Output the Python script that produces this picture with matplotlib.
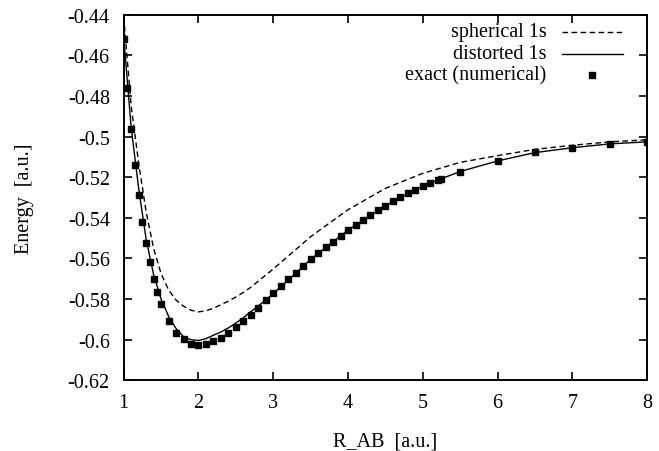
import matplotlib
matplotlib.use("Agg")
import matplotlib.pyplot as plt
from matplotlib.lines import Line2D

plt.rcParams['font.family'] = ['Liberation Serif', 'DejaVu Serif']

# --- exact (numerical) energies ---
r_exact = [1.00, 1.05, 1.10, 1.15, 1.20, 1.25, 1.30, 1.35, 1.40, 1.45, 1.50,
           1.60, 1.70, 1.80, 1.90, 2.00, 2.10, 2.20, 2.30, 2.40, 2.50, 2.60,
           2.70, 2.80, 2.90, 3.00, 3.10, 3.20, 3.30, 3.40, 3.50, 3.60, 3.70,
           3.80, 3.90, 4.00, 4.10, 4.20, 4.30, 4.40, 4.50, 4.60, 4.70, 4.80,
           4.90, 5.00, 5.10, 5.20, 5.25, 5.50, 6.00, 6.50, 7.00, 7.50, 8.00]
e_exact = [-0.4518, -0.4760, -0.4962, -0.5139, -0.5290, -0.5420, -0.5526,
           -0.5620, -0.5702, -0.5765, -0.5824, -0.5908, -0.5967, -0.5999,
           -0.6019, -0.6026, -0.6019, -0.6006, -0.5991, -0.5967, -0.5937,
           -0.5907, -0.5878, -0.5843, -0.5807, -0.5772, -0.5738, -0.5703,
           -0.5674, -0.5639, -0.5605, -0.5575, -0.5546, -0.5517, -0.5488,
           -0.5459, -0.5434, -0.5410, -0.5385, -0.5361, -0.5341, -0.5316,
           -0.5297, -0.5277, -0.5262, -0.5242, -0.5228, -0.5213, -0.5208,
           -0.5173, -0.5119, -0.5078, -0.5055, -0.5035, -0.5026]

# --- spherical 1s ---
r_sph = [1.0, 1.1, 1.2, 1.3, 1.4, 1.5, 1.6, 1.7, 1.8, 1.9, 2.0, 2.1, 2.2,
         2.3, 2.4, 2.5, 2.6, 2.7, 2.8, 2.9, 3.0, 3.5, 4.0, 4.5,
         5.0, 5.5, 6.0, 6.5, 7.0, 7.5, 8.0]
e_sph = [-0.441, -0.485, -0.513, -0.537, -0.555, -0.5675, -0.5755, -0.5805,
         -0.5835, -0.5855, -0.5863, -0.5858, -0.5845, -0.5828, -0.5810,
         -0.5790, -0.5767, -0.5742, -0.5712, -0.5682, -0.5652,
         -0.5493, -0.5360, -0.5255, -0.5181, -0.5127,
         -0.5094, -0.5063, -0.5043, -0.5026, -0.5016]

# --- distorted 1s ---
r_dist = [1.0, 1.1, 1.2, 1.3, 1.4, 1.5, 1.6, 1.7, 1.8, 1.9, 2.0, 2.1, 2.2,
          2.3, 2.4, 2.5, 2.6, 2.7, 2.8, 2.9, 3.0, 3.5, 4.0, 4.5, 5.0, 5.5,
          6.0, 6.5, 7.0, 7.5, 8.0]
e_dist = [-0.451, -0.4955, -0.5255, -0.5505, -0.5680, -0.5800, -0.5885,
          -0.5945, -0.5985, -0.6000, -0.6004, -0.5995, -0.5978, -0.5962,
          -0.5942, -0.5918, -0.5892, -0.5862, -0.5834, -0.5804, -0.5774,
          -0.5605, -0.5460, -0.5340, -0.5243, -0.5172, -0.5120, -0.5079,
          -0.5055, -0.5036, -0.5026]

labels = ['spherical 1s', 'distorted 1s', 'exact (numerical)']
xticks = [1, 2, 3, 4, 5, 6, 7, 8]
yticks = [-0.62, -0.6, -0.58, -0.56, -0.54, -0.52, -0.5, -0.48, -0.46, -0.44]
ytick_labels = ['-0.62', '-0.6', '-0.58', '-0.56', '-0.54', '-0.52', '-0.5',
                '-0.48', '-0.46', '-0.44']

fs = 14.5
fig = plt.figure(figsize=(6.59, 4.52), dpi=100)
ax = fig.add_axes([0.1877, 0.1564, 0.7943, 0.8089])

sph_style = dict(color='black', lw=1.0, dashes=(4, 2.5))
dist_style = dict(color='black', lw=1.0)
exact_style = dict(ls='none', marker='s', ms=4.6, color='black')

ax.plot(r_sph, e_sph, **sph_style)
ax.plot(r_dist, e_dist, **dist_style)
ax.plot(r_exact, e_exact, **exact_style)

ax.set_xlim(1, 8)
ax.set_ylim(-0.62, -0.44)
ax.set_xticks(xticks)
ax.set_xticklabels([str(t) for t in xticks])
ax.set_yticks(yticks)
ax.set_yticklabels(ytick_labels)
ax.tick_params(direction='in', length=6, width=1.2, top=True, right=True,
               labelsize=fs)
ax.tick_params(axis='x', pad=9)
ax.tick_params(axis='y', pad=10)
for s in ax.spines.values():
    s.set_linewidth(1.4)

ax.set_xlabel('R_AB  [a.u.]', fontsize=fs, labelpad=14)
ax.set_ylabel('Energy  [a.u.]', fontsize=fs, labelpad=24)

# gnuplot-style key: right-justified text, sample to the right
key_y = [0.953, 0.893, 0.835]
styles = [sph_style, dist_style, exact_style]
for lab, yy, st in zip(labels, key_y, styles):
    ax.text(0.808, yy, lab, transform=ax.transAxes, ha='right', va='center',
            fontsize=fs)
    if st.get('marker'):
        ax.add_line(Line2D([0.8945], [yy], transform=ax.transAxes, **st))
    else:
        ax.add_line(Line2D([0.837, 0.9535], [yy, yy], transform=ax.transAxes, **st))

plt.savefig('out.png', dpi=100)
